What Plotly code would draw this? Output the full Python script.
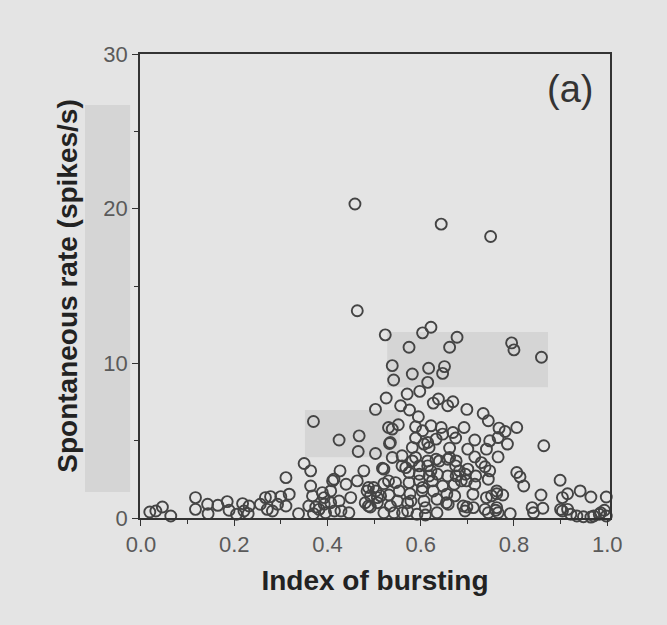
import plotly.graph_objects as go

# Index of bursting (x) and spontaneous rate in spikes/s (y)
burst_high = [0.459, 0.464, 0.644, 0.750, 0.524, 0.604, 0.622, 0.678, 0.575, 0.662,
              0.795, 0.800, 0.859, 0.539, 0.582, 0.617, 0.651, 0.647, 0.542, 0.615]
rate_high = [20.3, 13.4, 19.0, 18.2, 11.84, 11.97, 12.33, 11.69, 11.04, 11.04,
             11.32, 10.87, 10.39, 9.85, 9.31, 9.68, 9.79, 9.35, 8.92, 8.77]

burst_mid = [0.526, 0.571, 0.598, 0.503, 0.557, 0.576, 0.627, 0.638, 0.658, 0.669,
             0.699, 0.734, 0.745, 0.595, 0.370, 0.552, 0.539, 0.589, 0.622, 0.644,
             0.669, 0.693, 0.768, 0.781, 0.806, 0.604, 0.533, 0.503, 0.589, 0.615,
             0.618, 0.647, 0.633, 0.662, 0.675, 0.701, 0.716, 0.741, 0.748, 0.786,
             0.864, 0.766, 0.425, 0.468, 0.466, 0.531, 0.535, 0.582, 0.607]
rate_mid = [7.76, 8.02, 8.19, 7.02, 7.26, 6.98, 7.43, 7.69, 7.26, 7.52,
            7.02, 6.76, 6.29, 6.55, 6.24, 6.03, 5.75, 5.90, 5.96, 5.85,
            5.53, 5.85, 5.81, 5.59, 5.85, 5.64, 4.82, 4.17, 5.17, 4.88,
            4.56, 5.42, 5.10, 4.52, 5.17, 4.45, 5.04, 4.45, 4.99, 4.78,
            4.67, 5.20, 5.04, 5.31, 4.30, 5.85, 4.88, 4.56, 4.78]

burst_lowmid = [0.539, 0.560, 0.521, 0.560, 0.582, 0.597, 0.575, 0.597, 0.615, 0.618,
                0.640, 0.636, 0.662, 0.675, 0.676, 0.696, 0.718, 0.738, 0.745, 0.806,
                0.813, 0.821, 0.899, 0.716, 0.766, 0.499, 0.521, 0.546, 0.604, 0.311,
                0.350, 0.364, 0.364, 0.411, 0.427, 0.440, 0.464, 0.478, 0.414, 0.518,
                0.531, 0.589, 0.615, 0.633, 0.658, 0.676, 0.730, 0.701, 0.748, 0.568,
                0.622, 0.658, 0.683, 0.687, 0.575, 0.597, 0.625, 0.647, 0.672, 0.698,
                0.716, 0.488]
rate_lowmid = [3.91, 4.02, 3.16, 3.37, 3.69, 3.37, 2.94, 2.83, 3.37, 2.72,
               3.69, 2.83, 3.91, 3.37, 2.72, 2.83, 2.72, 3.31, 2.51, 2.94,
               2.66, 2.07, 2.44, 3.95, 3.95, 1.97, 2.22, 2.29, 1.97, 2.61,
               3.52, 3.05, 2.07, 2.40, 3.05, 2.18, 2.40, 3.05, 2.51, 3.22,
               2.40, 3.91, 3.69, 3.80, 3.80, 3.69, 3.58, 3.16, 3.05, 3.26,
               3.05, 2.72, 3.05, 2.40, 2.29, 2.40, 2.40, 2.07, 2.18, 2.40,
               2.18, 1.97]

burst_low = [0.019, 0.032, 0.046, 0.064, 0.117, 0.117, 0.143, 0.144, 0.165, 0.185,
             0.189, 0.205, 0.218, 0.221, 0.230, 0.232, 0.256, 0.267, 0.278, 0.271,
             0.282, 0.293, 0.300, 0.311, 0.318, 0.338, 0.368, 0.360, 0.370, 0.389,
             0.393, 0.382, 0.407, 0.407, 0.415, 0.425, 0.429, 0.450, 0.446, 0.485,
             0.488, 0.492, 0.504, 0.514, 0.481, 0.507, 0.535, 0.375, 0.396, 0.492,
             0.521, 0.543, 0.393, 0.507, 0.532, 0.554, 0.577, 0.579, 0.627, 0.635,
             0.656, 0.655, 0.610, 0.592, 0.561, 0.572, 0.610, 0.699, 0.695, 0.712,
             0.603, 0.673, 0.550, 0.572, 0.607, 0.659, 0.691, 0.713, 0.635, 0.766,
             0.741, 0.763, 0.776, 0.738, 0.745, 0.761, 0.792, 0.839, 0.842, 0.862,
             0.858, 0.904, 0.915, 0.942, 0.965, 0.998, 0.904, 0.922, 0.935, 0.949,
             0.971, 0.986, 0.994, 0.998, 0.752, 0.763, 0.900, 0.915, 0.965, 0.983,
             0.763]
rate_low = [0.39, 0.45, 0.71, 0.13, 1.32, 0.56, 0.89, 0.28, 0.82, 1.06,
            0.50, 0.24, 0.93, 0.45, 0.28, 0.78, 0.89, 1.32, 1.38, 0.56,
            0.45, 0.89, 1.38, 0.78, 1.54, 0.28, 1.43, 0.78, 0.28, 1.64,
            0.89, 0.56, 1.75, 0.99, 0.45, 1.10, 0.45, 1.32, 0.34, 1.75,
            0.78, 1.43, 1.75, 1.43, 0.99, 0.99, 0.78, 0.71, 0.34, 0.71,
            0.34, 0.34, 1.32, 1.32, 1.49, 1.75, 1.57, 1.10, 1.75, 1.21,
            1.54, 0.99, 0.67, 0.24, 0.34, 0.45, 0.19, 0.71, 0.45, 1.54,
            1.75, 1.43, 1.10, 0.99, 1.10, 0.89, 0.78, 0.67, 0.34, 0.34,
            1.32, 1.57, 1.49, 0.56, 0.34, 0.50, 0.28, 0.67, 0.34, 0.63,
            1.49, 1.32, 1.57, 1.75, 1.36, 1.36, 0.45, 0.24, 0.13, 0.08,
            0.13, 0.34, 0.50, 0.13, 1.43, 0.67, 0.56, 0.56, 0.06, 0.24,
            1.75]

x_ticks = [0.0, 0.2, 0.4, 0.6, 0.8, 1.0]
x_tick_text = ["0.0", "0.2", "0.4", "0.6", "0.8", "1.0"]
y_ticks = [0, 10, 20, 30]
y_tick_text = ["0", "10", "20", "30"]

bursting = burst_high + burst_mid + burst_lowmid + burst_low
rate = rate_high + rate_mid + rate_lowmid + rate_low

BG = "#e4e4e4"
PATCH = "#d5d5d5"
FONT = "Liberation Sans, Arial, sans-serif"

fig = go.Figure()
fig.add_trace(go.Scatter(
    x=bursting, y=rate, mode="markers", cliponaxis=False, showlegend=False,
    marker=dict(symbol="circle-open", size=11, color="#444444", line=dict(width=1.9)),
))

# halftone patches from the scanned original
for x0, x1, y0, y1 in [(-0.117, -0.021, 0.056, 0.890),
                       (0.351, 0.553, 0.131, 0.233),
                       (0.526, 0.868, 0.282, 0.401)]:
    fig.add_shape(type="rect", xref="paper", yref="paper", x0=x0, x1=x1, y0=y0, y1=y1,
                  fillcolor=PATCH, line=dict(width=0), layer="below")

fig.add_annotation(text="(a)", xref="paper", yref="paper", x=0.915, y=0.925,
                   xanchor="center", yanchor="middle", showarrow=False,
                   font=dict(family=FONT, size=38, color="#333333"))

axis_common = dict(showline=True, linecolor="#333333", linewidth=1.5, mirror=True,
                   showgrid=False, zeroline=False, ticks="outside", tickcolor="#333333",
                   tickwidth=1.2, ticklen=6,
                   tickfont=dict(family=FONT, size=22, color="#5a5a5a"))

fig.update_layout(
    width=667, height=625,
    margin=dict(l=140, r=57, t=54, b=107, autoexpand=False),
    paper_bgcolor=BG, plot_bgcolor=BG,
    xaxis=dict(range=[-0.002, 1.006], tickvals=x_ticks, ticktext=x_tick_text,
               minor=dict(dtick=0.1, ticks="outside", ticklen=4, tickcolor="#333333"),
               title=dict(text="<b>Index of bursting</b>", standoff=14,
                          font=dict(family=FONT, size=28, color="#222222")),
               **axis_common),
    yaxis=dict(range=[0, 30], tickvals=y_ticks, ticktext=y_tick_text,
               minor=dict(dtick=5, ticks="outside", ticklen=4, tickcolor="#333333"),
               title=dict(text="<b>Spontaneous rate (spikes/s)</b>", standoff=18,
                          font=dict(family=FONT, size=28, color="#222222")),
               **axis_common),
)

fig.write_html("out.html")
